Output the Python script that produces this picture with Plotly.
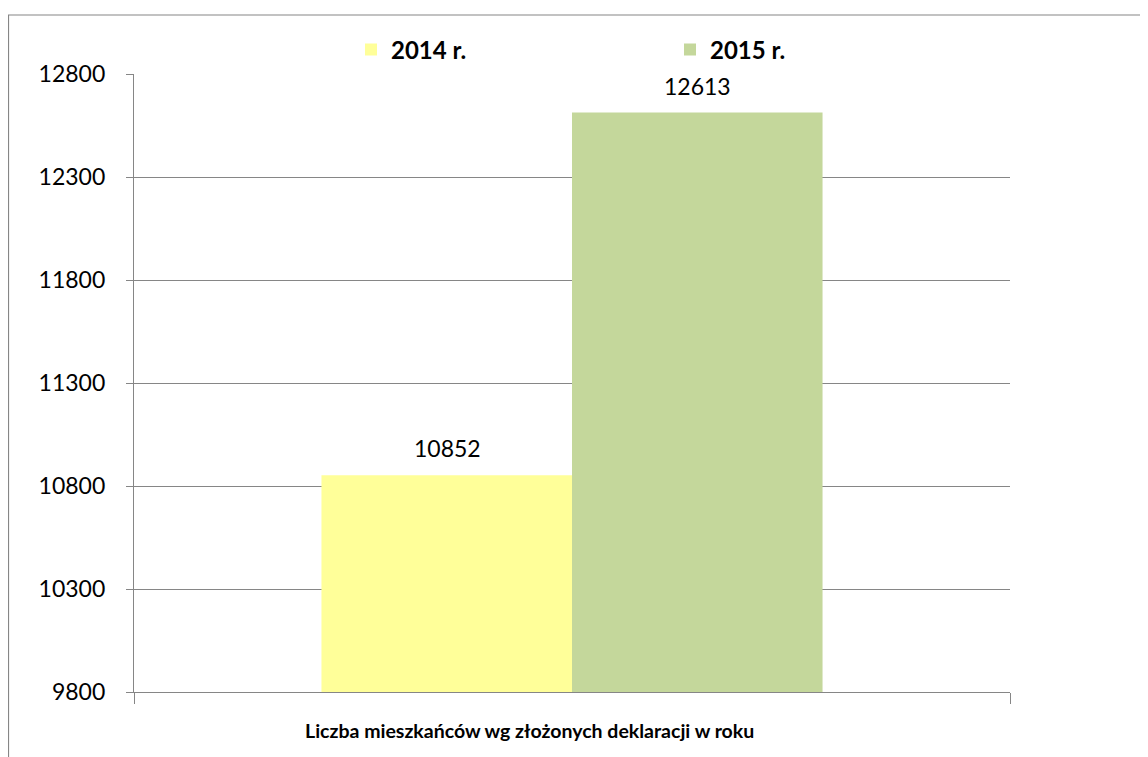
import plotly.graph_objects as go

# ---- data ----
categories = ["Liczba mieszkańców wg złożonych deklaracji w roku"]
series_names = ["2014 r.", "2015 r."]
values_2014 = [10852]
values_2015 = [12613]
series_values = [values_2014, values_2015]
y_ticks = [9800, 10300, 10800, 11300, 11800, 12300, 12800]

colors = ["#FFFF99", "#C4D79B"]
FONT = "Lato"
GRAY = "#868686"

# page body has an 8px margin; plot area wanted at x 134..1010, y 74..692 on page
OFF = 8
L, T, PW, PH = 134 - OFF, 74 - OFF, 876, 618


def px_x(x):
    return (x - OFF - L) / PW


def px_y(y):
    return (T + PH - (y - OFF)) / PH


fig = go.Figure()
for name, vals, col in zip(series_names, series_values, colors):
    fig.add_trace(go.Bar(
        x=categories, y=vals, name=name,
        marker=dict(color=col, line=dict(width=0)),
    ))

# data labels above bars
shifts = [-125, 125]
for vals, xs in zip(series_values, shifts):
    for c, v in zip(categories, vals):
        fig.add_annotation(
            x=c, y=v, text=str(v), showarrow=False,
            xshift=xs, yshift=11, yanchor="bottom",
            font=dict(family=FONT, size=23, color="#000000"),
        )

# category label below axis
fig.add_annotation(
    x=px_x(529.5), y=px_y(730), xref="paper", yref="paper",
    text="<b>" + categories[0] + "</b>", showarrow=False,
    xanchor="center", yanchor="middle",
    font=dict(family=FONT, size=19.5, color="#000000"),
)

# outer chart border
fig.add_shape(
    type="rect", xref="paper", yref="paper",
    x0=px_x(8.5), x1=px_x(1170),
    y0=px_y(790), y1=px_y(15),
    line=dict(color=GRAY, width=1.2), fillcolor="rgba(0,0,0,0)",
    layer="below",
)

fig.update_layout(
    width=1148, height=757,
    margin=dict(l=L, r=1148 - L - PW, t=T, b=757 - T - PH, pad=0),
    paper_bgcolor="white", plot_bgcolor="white",
    barmode="group", bargap=0.428, bargroupgap=0,
    font=dict(family=FONT, size=23, color="#000000"),
    showlegend=True,
    legend=dict(
        orientation="h", x=px_x(351), xanchor="left",
        y=px_y(50), yanchor="middle",
        entrywidth=274, entrywidthmode="pixels",
        font=dict(family=FONT, size=24, color="#000000", weight="bold"),
        bgcolor="rgba(0,0,0,0)", borderwidth=0,
    ),
    xaxis=dict(
        showticklabels=False, showgrid=False, zeroline=False,
        showline=True, linecolor=GRAY, linewidth=1,
        ticks="outside", tickson="boundaries", ticklen=11,
        tickcolor=GRAY, tickwidth=1,
    ),
    yaxis=dict(
        range=[y_ticks[0], y_ticks[-1]],
        tickvals=y_ticks, ticktext=[str(t) for t in y_ticks],
        showgrid=True, gridcolor=GRAY, gridwidth=1.2,
        zeroline=False,
        showline=True, linecolor=GRAY, linewidth=1.2,
        ticks="outside", ticklen=7, tickcolor=GRAY, tickwidth=1.2,
        ticklabelstandoff=16,
        tickfont=dict(family=FONT, size=23, color="#000000"),
    ),
)

fig.write_html("out.html")
